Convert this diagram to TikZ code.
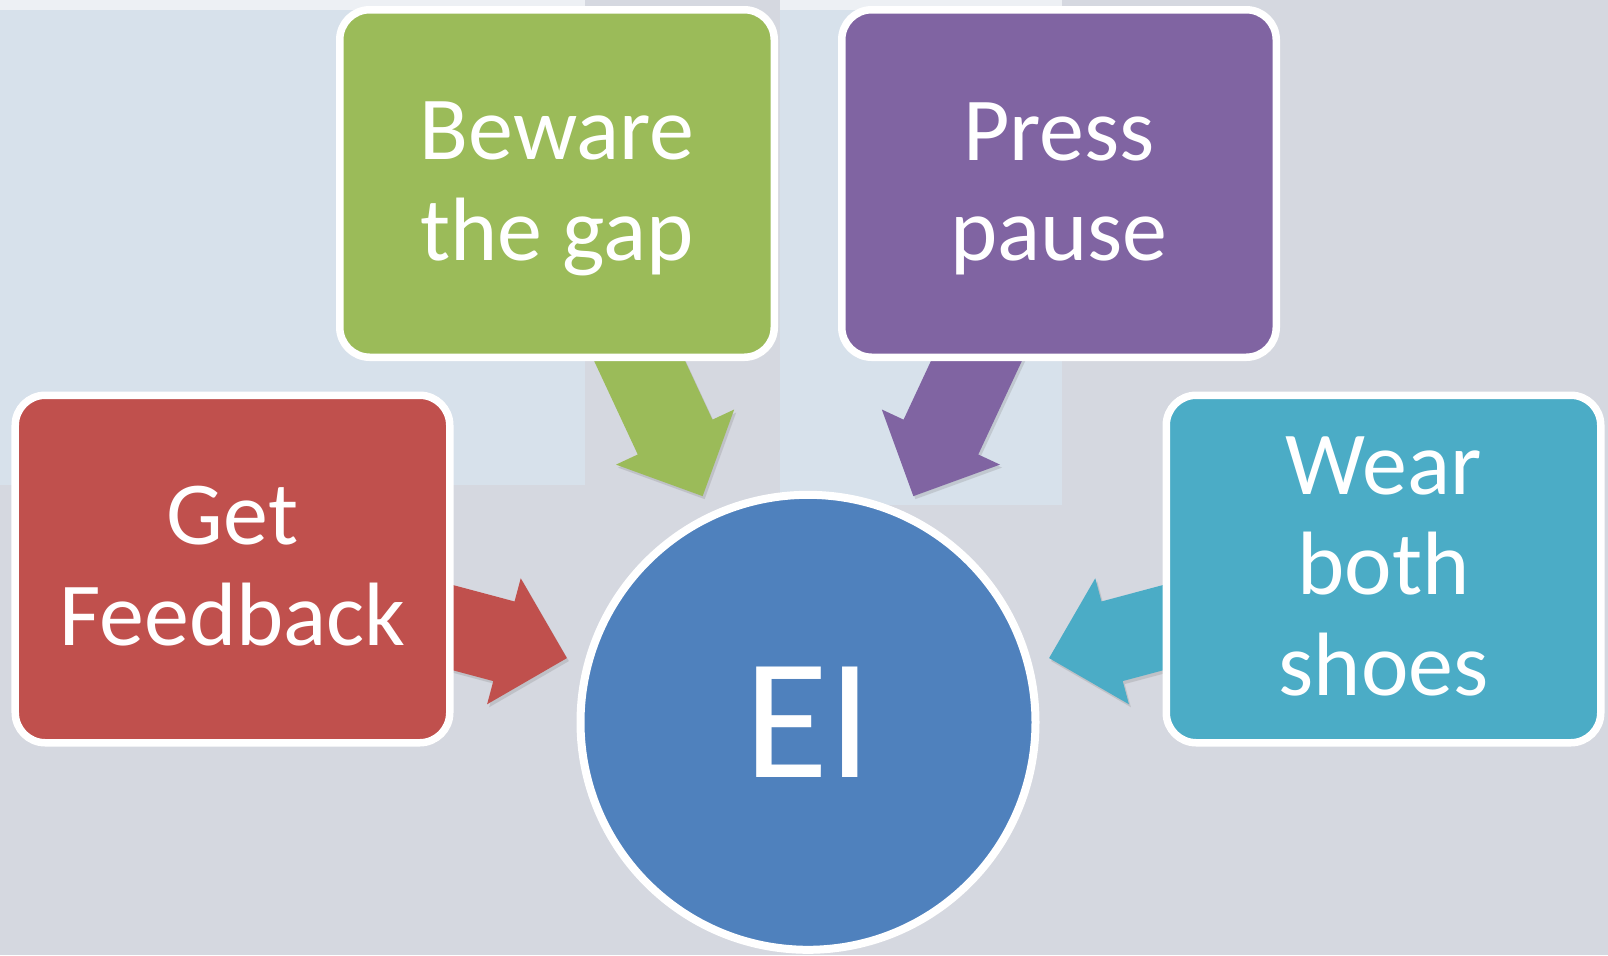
\documentclass[tikz,border=0pt]{standalone}
\usepackage{fontspec}
\setmainfont{Carlito}
\usetikzlibrary{shapes.arrows,shadows,calc,backgrounds}
\definecolor{boxgreen}{HTML}{9BBB59}
\definecolor{boxpurple}{HTML}{8064A2}
\definecolor{boxred}{HTML}{C0504D}
\definecolor{boxteal}{HTML}{4BACC6}
\definecolor{hubblue}{HTML}{4F81BD}
\definecolor{bgbase}{HTML}{D5D8E0}
\definecolor{bglight}{HTML}{D7E1EB}
\definecolor{bgtop}{HTML}{EDF0F4}
\newcommand\padtop{\rule{0pt}{.685cm}}
\newcommand\padbot{\rule[-.06cm]{0pt}{0pt}}
\tikzset{
  softshadow/.style={drop shadow={shadow xshift=.02cm,shadow yshift=-.03cm,opacity=.25}},
  box/.style={draw=white,line width=.075cm,rounded corners=.3cm,minimum width=4.345cm,
    minimum height=3.475cm,text=white,align=center,font=\fontsize{25.6}{28.6}\selectfont,softshadow},
  hub/.style={circle,draw=white,line width=.08cm,minimum size=4.55cm,fill=hubblue,
    text=white,font=\fontsize{49}{50}\selectfont,softshadow},
  blockarrow/.style={single arrow,single arrow head extend=.24cm,minimum height=1.85cm,
    inner xsep=0pt,inner ysep=.405cm,sloped,allow upside down,anchor=tip,softshadow}
}
\begin{document}
\begin{tikzpicture}
\useasboundingbox (0,0) rectangle (16.08,-9.55);
\node[hub] (ei) at (8.08,-7.223) {EI};
\node[box,fill=boxgreen] (gap) at (5.57,-1.835) {\padtop Beware\\the gap};
\node[box,fill=boxpurple] (pause) at (10.59,-1.835) {\padtop Press\\pause};
\node[box,fill=boxred] (fb) at (2.325,-5.69) {Get\\Feedback\padbot};
\node[box,fill=boxteal] (shoes) at (13.835,-5.69) {Wear\\both\\shoes\padbot};
\begin{scope}[on background layer]
\fill[bgbase] (0,0) rectangle (16.08,-9.55);
\fill[bglight] (0,-.1) rectangle (5.85,-4.85);
\fill[bglight] (7.8,-.1) rectangle (10.62,-5.05);
\fill[bgtop] (0,0) rectangle (5.85,-.1);
\fill[bgtop] (7.8,0) rectangle (10.62,-.1);
\foreach \b/\c in {gap/boxgreen,pause/boxpurple,fb/boxred,shoes/boxteal}
  \path (\b) -- ($(ei)!2.485cm!(\b)$) node[blockarrow,fill=\c,pos=1]{};
\end{scope}
\end{tikzpicture}
\end{document}
